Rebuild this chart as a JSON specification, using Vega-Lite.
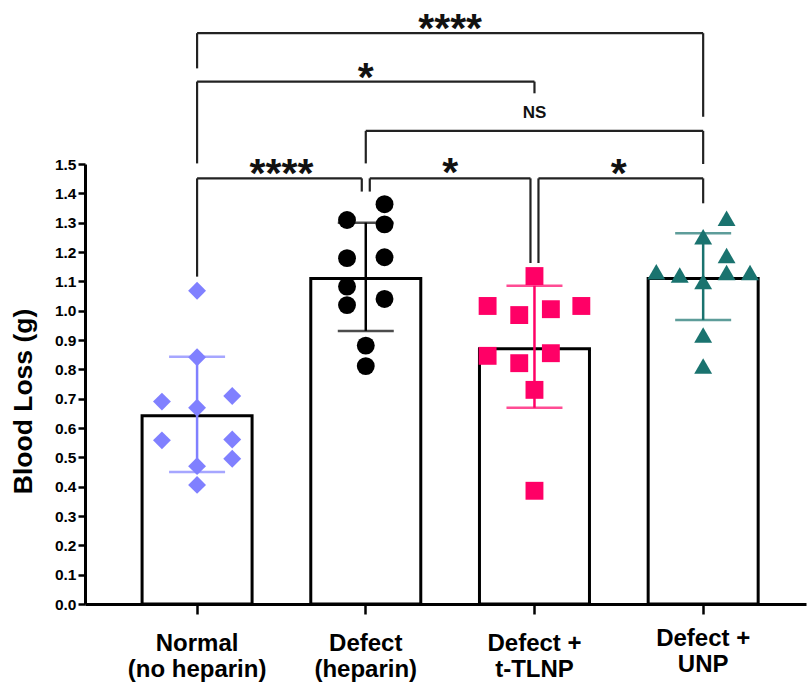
{
  "$schema": "https://vega.github.io/schema/vega-lite/v6.json",
  "autosize": {"type": "none"},
  "padding": {"left": 85, "top": 164, "right": 1, "bottom": 79},
  "width": 721,
  "height": 440,
  "background": "white",
  "config": {"view": {"stroke": null}, "font": "Liberation Sans"},
  "datasets": {
    "summary": [
      {"group": "Normal (no heparin)", "mean": 0.642, "lo": 0.45, "hi": 0.843},
      {"group": "Defect (heparin)", "mean": 1.11, "lo": 0.931, "hi": 1.3},
      {"group": "Defect + t-TLNP", "mean": 0.87, "lo": 0.669, "hi": 1.085},
      {"group": "Defect + UNP", "mean": 1.11, "lo": 0.968, "hi": 1.264}
    ],
    "points": [
      {"group": "Normal (no heparin)", "value": 1.068, "col": 0},
      {"group": "Normal (no heparin)", "value": 0.841, "col": 0},
      {"group": "Normal (no heparin)", "value": 0.69, "col": -1.5},
      {"group": "Normal (no heparin)", "value": 0.709, "col": 1.5},
      {"group": "Normal (no heparin)", "value": 0.669, "col": 0},
      {"group": "Normal (no heparin)", "value": 0.558, "col": -1.5},
      {"group": "Normal (no heparin)", "value": 0.561, "col": 1.5},
      {"group": "Normal (no heparin)", "value": 0.495, "col": 1.5},
      {"group": "Normal (no heparin)", "value": 0.47, "col": 0},
      {"group": "Normal (no heparin)", "value": 0.406, "col": 0},
      {"group": "Defect (heparin)", "value": 1.363, "col": 0.8},
      {"group": "Defect (heparin)", "value": 1.309, "col": -0.8},
      {"group": "Defect (heparin)", "value": 1.294, "col": 0.8},
      {"group": "Defect (heparin)", "value": 1.179, "col": -0.8},
      {"group": "Defect (heparin)", "value": 1.182, "col": 0.8},
      {"group": "Defect (heparin)", "value": 1.082, "col": -0.8},
      {"group": "Defect (heparin)", "value": 1.019, "col": -0.8},
      {"group": "Defect (heparin)", "value": 1.04, "col": 0.8},
      {"group": "Defect (heparin)", "value": 0.881, "col": 0},
      {"group": "Defect (heparin)", "value": 0.811, "col": 0},
      {"group": "Defect + t-TLNP", "value": 1.118, "col": 0},
      {"group": "Defect + t-TLNP", "value": 1.016, "col": -2},
      {"group": "Defect + t-TLNP", "value": 0.985, "col": -0.65},
      {"group": "Defect + t-TLNP", "value": 1.005, "col": 0.7},
      {"group": "Defect + t-TLNP", "value": 1.016, "col": 2},
      {"group": "Defect + t-TLNP", "value": 0.846, "col": -2},
      {"group": "Defect + t-TLNP", "value": 0.821, "col": -0.65},
      {"group": "Defect + t-TLNP", "value": 0.855, "col": 0.7},
      {"group": "Defect + t-TLNP", "value": 0.73, "col": 0},
      {"group": "Defect + t-TLNP", "value": 0.386, "col": 0},
      {"group": "Defect + UNP", "value": 1.315, "col": 1},
      {"group": "Defect + UNP", "value": 1.252, "col": 0},
      {"group": "Defect + UNP", "value": 1.188, "col": 1},
      {"group": "Defect + UNP", "value": 1.133, "col": -2},
      {"group": "Defect + UNP", "value": 1.122, "col": -1},
      {"group": "Defect + UNP", "value": 1.13, "col": 1},
      {"group": "Defect + UNP", "value": 1.13, "col": 2},
      {"group": "Defect + UNP", "value": 1.099, "col": 0},
      {"group": "Defect + UNP", "value": 0.917, "col": 0},
      {"group": "Defect + UNP", "value": 0.811, "col": 0}
    ],
    "brackets": [
      {"id": 1, "g1": "Normal (no heparin)", "g2": "Defect + UNP", "hy": 1.946, "b1": 1.826, "b2": 1.661, "label": "****", "labat": "Defect (heparin)", "ty": 1.998},
      {"id": 2, "g1": "Normal (no heparin)", "g2": "Defect + t-TLNP", "hy": 1.781, "b1": 1.502, "b2": 1.741, "label": "*", "labat": "Defect (heparin)", "ty": 1.831},
      {"id": 3, "g1": "Defect (heparin)", "g2": "Defect + UNP", "hy": 1.613, "b1": 1.502, "b2": 1.5, "label": "NS", "labat": "Defect + t-TLNP", "ty": 1.674},
      {"id": 4, "g1": "Normal (no heparin)", "g2": "Defect (heparin)", "hy": 1.451, "b1": 1.116, "b2": 1.406, "label": "****", "labat": "Normal (no heparin)", "ty": 1.503},
      {"id": 5, "g1": "Defect (heparin)", "g2": "Defect + t-TLNP", "hy": 1.451, "b1": 1.406, "b2": 1.1625, "label": "*", "labat": "Defect (heparin)", "ty": 1.507},
      {"id": 6, "g1": "Defect + t-TLNP", "g2": "Defect + UNP", "hy": 1.451, "b1": 1.1625, "b2": 1.366, "label": "*", "labat": "Defect + t-TLNP", "ty": 1.503}
    ]
  },
  "layer": [
    {
      "data": {"name": "summary"},
      "mark": {"type": "rect", "fill": "white", "stroke": "black", "strokeWidth": 3, "xOffset": -55, "x2Offset": 55},
      "encoding": {
        "x": {
          "field": "group", "type": "nominal", "title": null, "sort": null, "bandPosition": 0.5,
          "scale": {"domain": ["Normal (no heparin)", "Defect (heparin)", "Defect + t-TLNP", "Defect + UNP"], "paddingInner": 0, "paddingOuter": 0.137, "align": 0.6},
          "axis": {
            "labelExpr": "indexof(datum.label, ' (') > 0 ? [slice(datum.label, 0, indexof(datum.label, ' (')), slice(datum.label, indexof(datum.label, ' (') + 1)] : [slice(datum.label, 0, indexof(datum.label, '+') + 1), slice(datum.label, indexof(datum.label, '+') + 2)]",
            "labelAngle": 0, "labelFont": "Liberation Sans", "labelFontSize": 24, "labelFontWeight": "bold", "labelColor": "#000",
            "labelLineHeight": 25.5, "labelBaseline": "top",
            "labelPadding": {"condition": {"test": "datum.value === 'Defect + UNP'", "value": 12.5}, "value": 17.5},
            "tickSize": 10, "tickWidth": 2.5, "tickColor": "#000", "domainColor": "#000", "domainWidth": 3, "labelOverlap": false
          }
        },
        "x2": {"field": "group", "bandPosition": 0.5},
        "y": {
          "field": "mean", "type": "quantitative",
          "scale": {"domain": [0, 1.5], "nice": false, "zero": true},
          "axis": {
            "title": "Blood Loss (g)",
            "values": [0, 0.1, 0.2, 0.3, 0.4, 0.5, 0.6, 0.7, 0.8, 0.9, 1.0, 1.1, 1.2, 1.3, 1.4, 1.5],
            "format": ".1f", "labelFont": "Liberation Sans", "labelFontSize": 15.5, "labelFontWeight": "bold", "labelColor": "#000",
            "labelPadding": 2, "labelFlush": false, "labelOverlap": false,
            "tickColor": "#000", "tickWidth": 2.5, "tickSize": 7, "domainColor": "#000", "domainWidth": 3, "grid": false,
            "titleFont": "Liberation Sans", "titleFontSize": 26.5, "titleFontWeight": "bold", "titleColor": "#000", "titlePadding": 17, "titleY": 237
          }
        },
        "y2": {"datum": 0}
      }
    },
    {
      "data": {"name": "summary"},
      "mark": {"type": "rule", "strokeWidth": 2.5},
      "encoding": {
        "x": {"field": "group", "type": "nominal", "title": null},
        "y": {"field": "lo", "type": "quantitative", "axis": {"values": [0, 0.1, 0.2, 0.3, 0.4, 0.5, 0.6, 0.7, 0.8, 0.9, 1.0, 1.1, 1.2, 1.3, 1.4, 1.5]}},
        "y2": {"field": "hi"},
        "color": {"field": "group", "type": "nominal", "legend": null, "scale": {"domain": ["Normal (no heparin)", "Defect (heparin)", "Defect + t-TLNP", "Defect + UNP"], "range": ["#8080FF", "#000000", "#FF0066", "#1A736F"]}}
      }
    },
    {
      "data": {"name": "summary"},
      "mark": {"type": "tick", "orient": "horizontal", "size": 56, "thickness": 2.5},
      "encoding": {
        "x": {"field": "group", "type": "nominal", "title": null},
        "y": {"field": "hi", "type": "quantitative", "axis": {"values": [0, 0.1, 0.2, 0.3, 0.4, 0.5, 0.6, 0.7, 0.8, 0.9, 1.0, 1.1, 1.2, 1.3, 1.4, 1.5]}},
        "color": {"field": "group", "type": "nominal", "legend": null}
      }
    },
    {
      "data": {"name": "summary"},
      "mark": {"type": "tick", "orient": "horizontal", "size": 56, "thickness": 2.5},
      "encoding": {
        "x": {"field": "group", "type": "nominal", "title": null},
        "y": {"field": "lo", "type": "quantitative", "axis": {"values": [0, 0.1, 0.2, 0.3, 0.4, 0.5, 0.6, 0.7, 0.8, 0.9, 1.0, 1.1, 1.2, 1.3, 1.4, 1.5]}},
        "color": {"field": "group", "type": "nominal", "legend": null}
      }
    },
    {
      "data": {"name": "points"},
      "mark": {"type": "point", "filled": true, "opacity": 1, "size": 320},
      "encoding": {
        "x": {"field": "group", "type": "nominal", "title": null},
        "xOffset": {"field": "col", "type": "quantitative", "scale": {"domain": [-3.6, 3.6]}},
        "y": {"field": "value", "type": "quantitative", "axis": {"values": [0, 0.1, 0.2, 0.3, 0.4, 0.5, 0.6, 0.7, 0.8, 0.9, 1.0, 1.1, 1.2, 1.3, 1.4, 1.5]}},
        "color": {"field": "group", "type": "nominal", "legend": null},
        "shape": {"field": "group", "type": "nominal", "legend": null, "scale": {"domain": ["Normal (no heparin)", "Defect (heparin)", "Defect + t-TLNP", "Defect + UNP"], "range": ["diamond", "circle", "square", "triangle-up"]}}
      }
    },
    {
      "data": {"name": "brackets"},
      "layer": [
        {
          "transform": [{"filter": "datum.id <= 3"}],
          "mark": {"type": "rule", "strokeWidth": 2.2, "color": "#222"},
          "encoding": {
            "x": {"field": "g1", "type": "nominal", "bandPosition": 0.5, "title": null},
            "x2": {"field": "g2", "bandPosition": 0.5},
            "y": {"field": "hy", "type": "quantitative", "axis": {"values": [0, 0.1, 0.2, 0.3, 0.4, 0.5, 0.6, 0.7, 0.8, 0.9, 1.0, 1.1, 1.2, 1.3, 1.4, 1.5]}}
          }
        },
        {
          "transform": [{"filter": "datum.id == 4"}],
          "mark": {"type": "rule", "strokeWidth": 2.2, "color": "#222", "x2Offset": -4},
          "encoding": {
            "x": {"field": "g1", "type": "nominal", "bandPosition": 0.5, "title": null},
            "x2": {"field": "g2", "bandPosition": 0.5},
            "y": {"field": "hy", "type": "quantitative", "axis": {"values": [0, 0.1, 0.2, 0.3, 0.4, 0.5, 0.6, 0.7, 0.8, 0.9, 1.0, 1.1, 1.2, 1.3, 1.4, 1.5]}}
          }
        },
        {
          "transform": [{"filter": "datum.id == 5"}],
          "mark": {"type": "rule", "strokeWidth": 2.2, "color": "#222", "xOffset": 4, "x2Offset": -4},
          "encoding": {
            "x": {"field": "g1", "type": "nominal", "bandPosition": 0.5, "title": null},
            "x2": {"field": "g2", "bandPosition": 0.5},
            "y": {"field": "hy", "type": "quantitative", "axis": {"values": [0, 0.1, 0.2, 0.3, 0.4, 0.5, 0.6, 0.7, 0.8, 0.9, 1.0, 1.1, 1.2, 1.3, 1.4, 1.5]}}
          }
        },
        {
          "transform": [{"filter": "datum.id == 6"}],
          "mark": {"type": "rule", "strokeWidth": 2.2, "color": "#222", "xOffset": 4},
          "encoding": {
            "x": {"field": "g1", "type": "nominal", "bandPosition": 0.5, "title": null},
            "x2": {"field": "g2", "bandPosition": 0.5},
            "y": {"field": "hy", "type": "quantitative", "axis": {"values": [0, 0.1, 0.2, 0.3, 0.4, 0.5, 0.6, 0.7, 0.8, 0.9, 1.0, 1.1, 1.2, 1.3, 1.4, 1.5]}}
          }
        },
        {
          "transform": [{"filter": "datum.id <= 4"}],
          "mark": {"type": "rule", "strokeWidth": 2.2, "color": "#222"},
          "encoding": {
            "x": {"field": "g1", "type": "nominal", "bandPosition": 0.5, "title": null},
            "y": {"field": "hy", "type": "quantitative", "axis": {"values": [0, 0.1, 0.2, 0.3, 0.4, 0.5, 0.6, 0.7, 0.8, 0.9, 1.0, 1.1, 1.2, 1.3, 1.4, 1.5]}},
            "y2": {"field": "b1"}
          }
        },
        {
          "transform": [{"filter": "datum.id >= 5"}],
          "mark": {"type": "rule", "strokeWidth": 2.2, "color": "#222", "xOffset": 4},
          "encoding": {
            "x": {"field": "g1", "type": "nominal", "bandPosition": 0.5, "title": null},
            "y": {"field": "hy", "type": "quantitative", "axis": {"values": [0, 0.1, 0.2, 0.3, 0.4, 0.5, 0.6, 0.7, 0.8, 0.9, 1.0, 1.1, 1.2, 1.3, 1.4, 1.5]}},
            "y2": {"field": "b1"}
          }
        },
        {
          "transform": [{"filter": "datum.id <= 3 || datum.id == 6"}],
          "mark": {"type": "rule", "strokeWidth": 2.2, "color": "#222"},
          "encoding": {
            "x": {"field": "g2", "type": "nominal", "bandPosition": 0.5, "title": null},
            "y": {"field": "hy", "type": "quantitative", "axis": {"values": [0, 0.1, 0.2, 0.3, 0.4, 0.5, 0.6, 0.7, 0.8, 0.9, 1.0, 1.1, 1.2, 1.3, 1.4, 1.5]}},
            "y2": {"field": "b2"}
          }
        },
        {
          "transform": [{"filter": "datum.id == 4 || datum.id == 5"}],
          "mark": {"type": "rule", "strokeWidth": 2.2, "color": "#222", "xOffset": -4},
          "encoding": {
            "x": {"field": "g2", "type": "nominal", "bandPosition": 0.5, "title": null},
            "y": {"field": "hy", "type": "quantitative", "axis": {"values": [0, 0.1, 0.2, 0.3, 0.4, 0.5, 0.6, 0.7, 0.8, 0.9, 1.0, 1.1, 1.2, 1.3, 1.4, 1.5]}},
            "y2": {"field": "b2"}
          }
        },
        {
          "transform": [{"filter": "datum.id == 2"}],
          "mark": {"type": "text", "fontSize": 41, "fontWeight": "bold", "baseline": "alphabetic", "dy": 24, "align": "center", "color": "#111"},
          "encoding": {
            "x": {"field": "labat", "type": "nominal", "bandPosition": 0.5, "title": null},
            "y": {"field": "ty", "type": "quantitative", "axis": {"values": [0, 0.1, 0.2, 0.3, 0.4, 0.5, 0.6, 0.7, 0.8, 0.9, 1.0, 1.1, 1.2, 1.3, 1.4, 1.5]}},
            "text": {"field": "label"}
          }
        },
        {
          "transform": [{"filter": "datum.id == 3"}],
          "mark": {"type": "text", "fontSize": 17, "fontWeight": "bold", "baseline": "middle", "align": "center", "color": "#111"},
          "encoding": {
            "x": {"field": "labat", "type": "nominal", "bandPosition": 0.5, "title": null},
            "y": {"field": "ty", "type": "quantitative", "axis": {"values": [0, 0.1, 0.2, 0.3, 0.4, 0.5, 0.6, 0.7, 0.8, 0.9, 1.0, 1.1, 1.2, 1.3, 1.4, 1.5]}},
            "text": {"field": "label"}
          }
        },
        {
          "transform": [{"filter": "datum.id == 1 || datum.id >= 4"}],
          "mark": {"type": "text", "fontSize": 41, "fontWeight": "bold", "baseline": "alphabetic", "dy": 24, "align": "center", "color": "#111"},
          "encoding": {
            "x": {"field": "labat", "type": "nominal", "bandPosition": 1, "title": null},
            "y": {"field": "ty", "type": "quantitative", "axis": {"values": [0, 0.1, 0.2, 0.3, 0.4, 0.5, 0.6, 0.7, 0.8, 0.9, 1.0, 1.1, 1.2, 1.3, 1.4, 1.5]}},
            "text": {"field": "label"}
          }
        }
      ]
    }
  ]
}
